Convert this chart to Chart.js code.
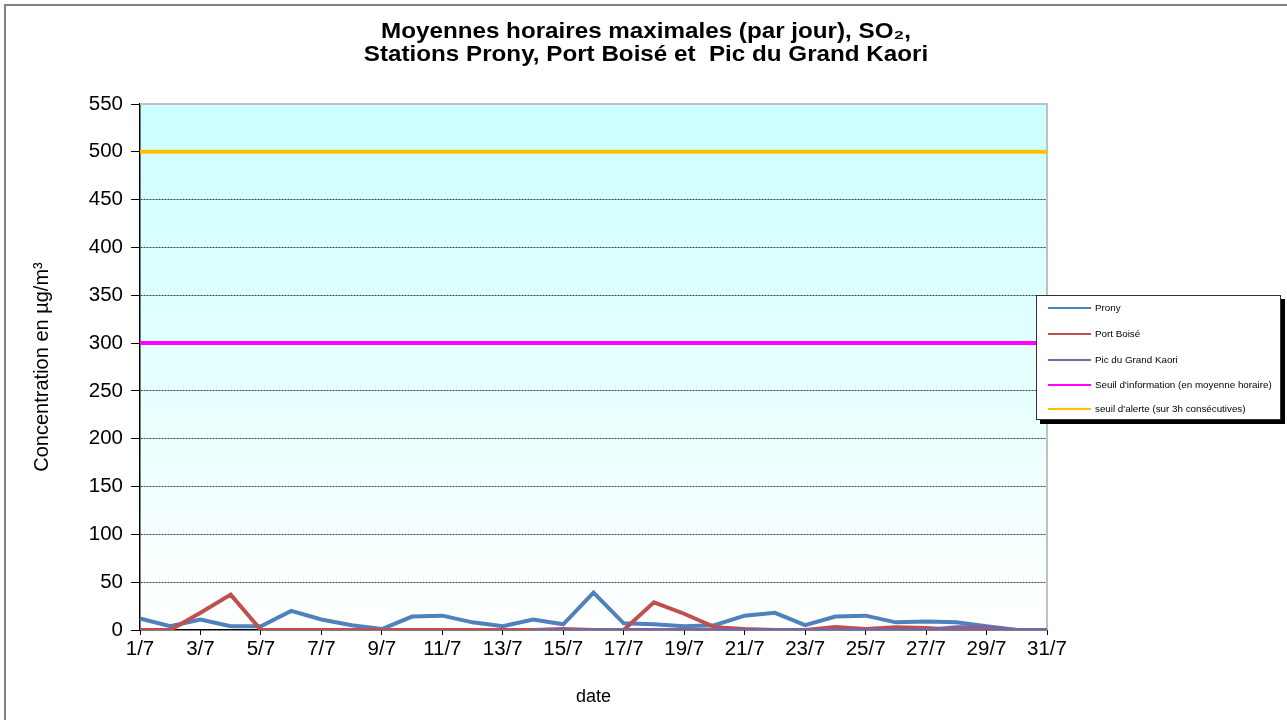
<!DOCTYPE html>
<html>
<head>
<meta charset="utf-8">
<script src="https://cdn.jsdelivr.net/npm/chart.js@4.4.1/dist/chart.umd.min.js"></script>
<style>
  html, body { margin: 0; padding: 0; background: #fff; overflow: hidden; }
  #wrap { position: relative; width: 1287px; height: 720px; overflow: hidden; }
  #frame { position: absolute; left: 4px; top: 4px; width: 1300px; height: 740px; border: 2px solid #808080; box-sizing: border-box; }
  #chart { position: absolute; left: 0; top: 0; }
  #legend {
    position: absolute; left: 1036px; top: 295px; width: 245px; height: 125px;
    box-sizing: border-box; border: 1px solid #333; background: #fff;
    box-shadow: 4px 4px 0 #000; font-family: "Liberation Sans", Arial, sans-serif; font-size: 9.8px; color: #000;
  }
  .row { position: absolute; left: 0; height: 12px; line-height: 12px; white-space: nowrap; }
  .sw { position: absolute; left: 11px; top: 5px; width: 43px; height: 2px; }
  .lbl { position: absolute; left: 58px; top: 0; }
</style>
</head>
<body>
<div id="wrap">
  <div id="frame"></div>
  <canvas id="chart" width="1287" height="720"></canvas>
  <div id="legend"></div>
</div>
<script>
const days = ["1/7", "2/7", "3/7", "4/7", "5/7", "6/7", "7/7", "8/7", "9/7", "10/7",
  "11/7", "12/7", "13/7", "14/7", "15/7", "16/7", "17/7", "18/7", "19/7", "20/7",
  "21/7", "22/7", "23/7", "24/7", "25/7", "26/7", "27/7", "28/7", "29/7", "30/7", "31/7"];

const prony = [12, 4, 11, 4, 4, 20, 11, 5, 1, 14, 15, 8, 4, 11, 6, 39, 7, 6, 4, 5,
  15, 18, 5, 14, 15, 8, 9, 8, 4, 0, 0];
const portBoise = [0, 0, 18, 37, 0, 0, 0, 0, 0, 0, 0, 0, 0, 0, 1, 0, 0, 29, 17, 3,
  1, 0, 0, 3, 1, 3, 2, 0, 0, 0, 0];
const picKaori = [null, null, null, null, null, null, null, null, null, null, null, null, null,
  0, 0, 0, 0, 0, 0, 0, 0, 0, 0, 0, 0, 0, 0, 3, 3, 0, 0];

const seuilInfo = 300;
const seuilAlerte = 500;

const yTicks = { min: 0, max: 550, step: 50 };

const titleLines = ["Moyennes horaires maximales (par jour), SO₂,", "Stations Prony, Port Boisé et  Pic du Grand Kaori"];

const font = "'Liberation Sans', Arial, sans-serif";

const series = [
  { label: "Prony", data: prony, color: "#4F81BD", order: 2 },
  { label: "Port Boisé", data: portBoise, color: "#C0504D", order: 1 },
  { label: "Pic du Grand Kaori", data: picKaori, color: "#8064A2", order: 0 },
  { label: "Seuil d'information (en moyenne horaire)", color: "#FF00FF", order: 3,
    data: [{ x: days[0], y: seuilInfo }, { x: days[days.length - 1], y: seuilInfo }] },
  { label: "seuil d'alerte (sur 3h consécutives)", color: "#FFC000", order: 4,
    data: [{ x: days[0], y: seuilAlerte }, { x: days[days.length - 1], y: seuilAlerte }] }
];

// plot background gradient and grey frame on top/right
const plotArea = {
  id: "plotArea",
  beforeDraw(chart) {
    const { ctx, chartArea: a } = chart;
    const g = ctx.createLinearGradient(0, a.top, 0, a.bottom);
    g.addColorStop(0, "#CCFFFF");
    g.addColorStop(1, "#FFFFFF");
    ctx.save();
    ctx.fillStyle = g;
    ctx.fillRect(a.left, a.top, a.right - a.left, a.bottom - a.top);
    ctx.restore();
  },
  beforeDatasetsDraw(chart) {
    const { ctx, chartArea: a } = chart;
    ctx.save();
    ctx.strokeStyle = "#C0C0C0";
    ctx.lineWidth = 2;
    ctx.beginPath();
    ctx.moveTo(a.left, a.top);
    ctx.lineTo(a.right, a.top);
    ctx.lineTo(a.right, a.bottom);
    ctx.stroke();
    ctx.restore();
  }
};

// the title in the original is a little wider than plain Arial, so stretch it
const wideTitle = {
  id: "wideTitle",
  afterDraw(chart) {
    const ctx = chart.ctx;
    ctx.save();
    ctx.translate(646, 0);
    ctx.scale(1.1, 1);
    ctx.font = "bold 22px " + font;
    ctx.fillStyle = "#000";
    ctx.textAlign = "center";
    ctx.textBaseline = "alphabetic";
    titleLines.forEach((t, i) => ctx.fillText(t, 0, 38 + i * 22.5));
    ctx.restore();
  }
};

new Chart(document.getElementById("chart").getContext("2d"), {
  type: "line",
  data: {
    labels: days,
    datasets: series.map(s => ({
      label: s.label,
      data: s.data,
      borderColor: s.color,
      backgroundColor: s.color,
      borderWidth: 4,
      pointRadius: 0,
      tension: 0,
      order: s.order,
      fill: false
    }))
  },
  options: {
    responsive: false,
    animation: false,
    layout: { padding: { top: 104, left: 0, right: 0, bottom: 0 } },
    plugins: {
      legend: { display: false },
      tooltip: { enabled: false },
      title: { display: false }
    },
    scales: {
      x: {
        type: "category",
        offset: false,
        afterFit(scale) { scale.height = 90; },
        ticks: {
          autoSkip: false,
          maxRotation: 0,
          padding: 2,
          color: "#000",
          font: { family: font, size: 20.5 },
          callback(v, i) { return i % 2 === 0 ? days[i] : ""; }
        },
        grid: {
          drawOnChartArea: false,
          tickLength: 5,
          tickColor: c => (c.index % 2 === 0 ? "#000" : "rgba(0,0,0,0)")
        },
        border: { color: "#000", width: 1.5 },
        title: {
          display: true, text: "date", color: "#000",
          font: { family: font, size: 18 },
          padding: { top: 0, bottom: 12 }
        }
      },
      y: {
        min: yTicks.min,
        max: yTicks.max,
        afterFit(scale) { scale.width = 140; },
        ticks: {
          stepSize: yTicks.step,
          padding: 8,
          color: "#000",
          font: { family: font, size: 20.5 }
        },
        grid: {
          color: c => (c.tick && (c.tick.value === yTicks.min || c.tick.value === yTicks.max) ? "rgba(0,0,0,0)" : "#404040"),
          tickColor: "#000",
          tickLength: 9,
          tickBorderDash: []
        },
        border: { color: "#000", width: 1.5, dash: [2, 1] },
        title: {
          display: true, text: "Concentration en µg/m³", color: "#000",
          font: { family: font, size: 20 },
          padding: { top: 30, bottom: 0 }
        }
      },
      // empty right-hand axis that only reserves the space where the legend sits
      side: {
        position: "right",
        display: true,
        afterFit(scale) { scale.width = 240; },
        grid: { display: false },
        border: { display: false },
        ticks: { display: false }
      }
    }
  },
  plugins: [plotArea, wideTitle]
});

// legend as html, built from the series list
const legend = document.getElementById("legend");
const rowTops = [6, 32, 58, 83, 107];
series.forEach((s, i) => {
  const row = document.createElement("div");
  row.className = "row";
  row.style.top = rowTops[i] + "px";
  row.innerHTML = '<span class="sw" style="background:' + s.color + '"></span><span class="lbl"></span>';
  row.querySelector(".lbl").textContent = s.label;
  legend.appendChild(row);
});
</script>
</body>
</html>
